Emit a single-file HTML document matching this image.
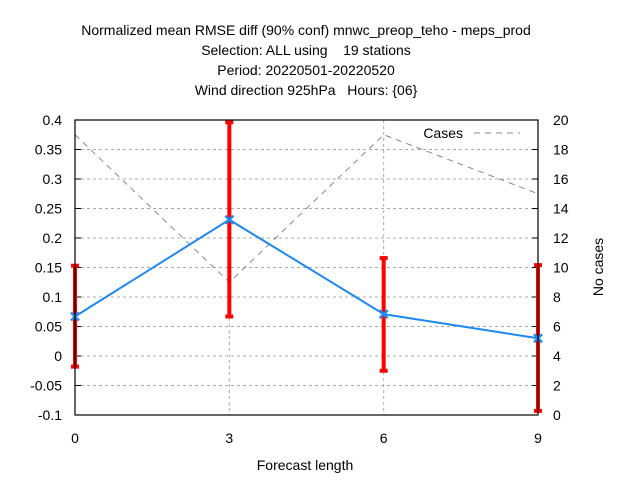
<!DOCTYPE html>
<html><head><meta charset="utf-8"><style>
body{margin:0;background:#fff;}
svg{font-family:"Liberation Sans",sans-serif;font-size:14px;}
text{white-space:pre;}
</style></head><body>
<svg id="chart" width="640" height="480">
<g text-anchor="middle" fill="#000">
<text x="306" y="35">Normalized mean RMSE diff (90% conf) mnwc_preop_teho - meps_prod</text>
<text x="306" y="55">Selection: ALL using    19 stations</text>
<text x="306" y="75">Period: 20220501-20220520</text>
<text x="306" y="95">Wind direction 925hPa   Hours: {06}</text>
</g>
<g id="grid"></g>
<g id="axes"></g>
<g id="marks"></g>
<rect x="75" y="120" width="463" height="295" fill="none" stroke="#000" stroke-width="1.2"/>
<text x="305" y="470" text-anchor="middle">Forecast length</text>
<text transform="translate(603,267) rotate(-90)" text-anchor="middle">No cases</text>
<g>
<text x="463" y="138" text-anchor="end">Cases</text>
<line x1="474" y1="133" x2="520" y2="133" stroke="#888" stroke-dasharray="6,5"/>
</g>
</svg>
<script>
const xs=[0,3,6,9];
const vals=[0.067,0.231,0.071,0.030];
const errLo=[-0.018,0.067,-0.025,-0.093];
const errHi=[0.153,0.396,0.166,0.154];
const cases=[19,9,19,15];
const yTicks=[-0.1,-0.05,0,0.05,0.1,0.15,0.2,0.25,0.3,0.35,0.4];
const y2Ticks=[0,2,4,6,8,10,12,14,16,18,20];
const xTicks=[0,3,6,9];
const L=75,R=538,T=120,B=415;
const X=v=>L+(v-0)/9*(R-L);
const Y=v=>B-(v+0.1)/0.5*(B-T);
const Y2=v=>B-v/20*(B-T);
const NS="http://www.w3.org/2000/svg";
function mk(tag,attrs,parent,text){const e=document.createElementNS(NS,tag);for(const k in attrs)e.setAttribute(k,attrs[k]);if(text!==undefined)e.textContent=text;parent.appendChild(e);return e;}
const grid=document.getElementById('grid'),axes=document.getElementById('axes'),marks=document.getElementById('marks');
yTicks.forEach(t=>{const y=Y(t);
 if(t>-0.1&&t<0.4){const g=mk('line',{x1:L,x2:R,y1:y,y2:y,stroke:'#aaa','stroke-dasharray':'3,3'},grid);
 
 }
 const tk=mk('line',{x1:L,x2:L+6,y1:y,y2:y,stroke:'#000'},axes);
 
 
 const lb=mk('text',{x:L-13,y:y+5,'text-anchor':'end'},axes,String(t));
 
 });
y2Ticks.forEach(t=>{const y=Y2(t);
 const tk=mk('line',{x1:R-6,x2:R,y1:y,y2:y,stroke:'#000'},axes);
 
 
 const lb=mk('text',{x:R+15,y:y+5,'text-anchor':'start'},axes,String(t));
 
 });
xTicks.forEach(t=>{const x=X(t);
 if(t>0&&t<9){const g=mk('line',{x1:x,x2:x,y1:T,y2:B,stroke:'#aaa','stroke-dasharray':'3,3'},grid);
 
 }
 const lb=mk('text',{x:x,y:B+28,'text-anchor':'middle'},axes,String(t));
 
 });
const cl=mk('polyline',{points:xs.map((x,i)=>X(x)+','+Y2(cases[i])).join(' '),fill:'none',stroke:'#888','stroke-dasharray':'6,5'},marks);


xs.forEach((x,i)=>{const px=X(x);
 const e=mk('g',{stroke:'#f00','stroke-width':4},marks);
 
 
 mk('line',{x1:px,x2:px,y1:Y(errLo[i]),y2:Y(errHi[i])},e);
 mk('line',{x1:px-4,x2:px+4,y1:Y(errLo[i]),y2:Y(errLo[i])},e);
 mk('line',{x1:px-4,x2:px+4,y1:Y(errHi[i]),y2:Y(errHi[i])},e);});
const ml=mk('polyline',{points:xs.map((x,i)=>X(x)+','+Y(vals[i])).join(' '),fill:'none',stroke:'#1e88ee','stroke-width':2},marks);


xs.forEach((x,i)=>{const px=X(x),py=Y(vals[i]);
 const p=mk('path',{d:`M${px-4},${py-4}L${px+4},${py+4}M${px-4},${py+4}L${px+4},${py-4}`,stroke:'#1e88ee','stroke-width':2.5},marks);
 
 });
</script>
</body></html>
